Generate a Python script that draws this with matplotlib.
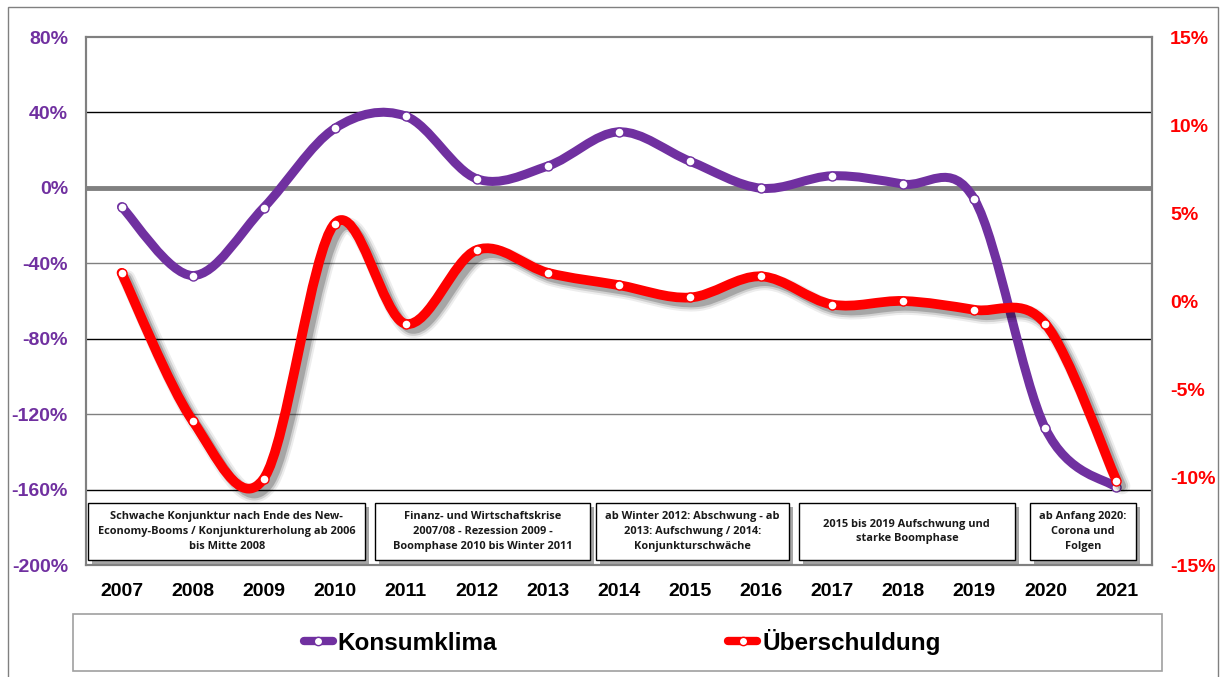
import numpy as np
import matplotlib
matplotlib.use("Agg")
import matplotlib.pyplot as plt
from matplotlib.path import Path
from matplotlib.patches import PathPatch, Rectangle
from matplotlib.lines import Line2D
import matplotlib.patheffects as pe

# data
years = ["2007", "2008", "2009", "2010", "2011", "2012", "2013", "2014",
         "2015", "2016", "2017", "2018", "2019", "2020", "2021"]
konsumklima = [-10.0, -46.5, -10.5, 31.5, 38.0, 4.8, 11.6, 29.7,
               14.1, -0.2, 6.4, 2.0, -6.0, -127.6, -158.9]
ueberschuldung = [1.6, -6.8, -10.1, 4.4, -1.3, 2.9, 1.6, 0.9,
                  0.2, 1.4, -0.2, 0.0, -0.5, -1.3, -10.2]

left_ticks = [80, 40, 0, -40, -80, -120, -160, -200]
right_ticks = [15, 10, 5, 0, -5, -10, -15]

phases = [
    ("Schwache Konjunktur nach Ende des New-\nEconomy-Booms / Konjunkturerholung ab 2006\nbis Mitte 2008", -0.47, 3.43),
    ("Finanz- und Wirtschaftskrise\n2007/08 - Rezession 2009 -\nBoomphase 2010 bis Winter 2011", 3.57, 6.59),
    ("ab Winter 2012: Abschwung - ab\n2013: Aufschwung / 2014:\nKonjunkturschwäche", 6.68, 9.39),
    ("2015 bis 2019 Aufschwung und\nstarke Boomphase", 9.53, 12.57),
    ("ab Anfang 2020:\nCorona und\nFolgen", 12.78, 14.27),
]

PURPLE = "#7030A0"
RED = "#FF0000"

plt.rcParams["font.family"] = ["Liberation Sans", "DejaVu Sans"]


def smooth_path(x, y):
    # excel-like smoothed line as cubic bezier segments
    n = len(x)
    verts = [(x[0], y[0])]
    codes = [Path.MOVETO]
    for i in range(n - 1):
        a = max(i - 1, 0)
        b = min(i + 2, n - 1)
        c1 = (x[i] + (x[i + 1] - x[a]) / 6, y[i] + (y[i + 1] - y[a]) / 6)
        c2 = (x[i + 1] - (x[b] - x[i]) / 6, y[i + 1] - (y[b] - y[i]) / 6)
        verts += [c1, c2, (x[i + 1], y[i + 1])]
        codes += [Path.CURVE4] * 3
    return Path(verts, codes)


fig = plt.figure(figsize=(12.23, 6.77), dpi=100)
ax = fig.add_axes([86 / 1223, 1 - 565 / 677, (1152 - 86) / 1223, (565 - 37) / 677])
ax2 = ax.twinx()

xs = np.arange(len(years))

ax.set_xlim(-0.5, len(years) - 0.5)
ax.set_ylim(-200, 80)
ax2.set_ylim(-15, 15)

# gridlines
for t, c in zip([40, -40, -80, -120, -160], ["#000000", "#808080", "#000000", "#808080", "#000000"]):
    ax.axhline(t, color=c, lw=1, zorder=1)
ax.axhline(0, color="#808080", lw=3.5, zorder=1)

# Konsumklima line
ax.add_patch(PathPatch(smooth_path(xs, konsumklima), fill=False, edgecolor=PURPLE,
                       lw=6.5, capstyle="round", joinstyle="round", zorder=3))
ax.plot(xs, konsumklima, "o", mfc="white", mec=PURPLE, ms=6.5, mew=1, zorder=4)

# Überschuldung line with soft shadow
shadow = [
    pe.SimpleLineShadow(offset=(4, -4), shadow_color="k", alpha=0.07, linewidth=12),
    pe.SimpleLineShadow(offset=(4, -4), shadow_color="k", alpha=0.12, linewidth=9),
    pe.SimpleLineShadow(offset=(4, -4), shadow_color="k", alpha=0.2, linewidth=6),
    pe.Normal(),
]
ax2.add_patch(PathPatch(smooth_path(xs, ueberschuldung), fill=False, edgecolor=RED,
                        lw=7, capstyle="round", joinstyle="round", zorder=3,
                        path_effects=shadow))
ax2.plot(xs, ueberschuldung, "o", mfc="white", mec=RED, ms=6.5, mew=1, zorder=4)

# axes styling
ax.set_xticks(xs)
ax.set_xticklabels(years, fontsize=14, fontweight="bold")
ax.set_yticks(left_ticks)
ax.set_yticklabels([f"{t}%" for t in left_ticks], fontsize=14, fontweight="bold", color=PURPLE)
ax2.set_yticks(right_ticks)
ax2.set_yticklabels([f"{t}%" for t in right_ticks], fontsize=14, fontweight="bold", color=RED)
ax.tick_params(axis="x", length=0, pad=13)
ax.tick_params(axis="y", length=0, pad=13)
ax2.tick_params(axis="y", length=0, pad=13)
for a in (ax, ax2):
    for s in a.spines.values():
        s.set_color("#808080")
        s.set_linewidth(1.5)

# phase boxes
for text, x0, x1 in phases:
    r = Rectangle((x0, -197.3), x1 - x0, 30.2, facecolor="white", edgecolor="black",
                  lw=1, zorder=5,
                  path_effects=[pe.SimplePatchShadow(offset=(3, -3), shadow_rgbFace="k", alpha=0.35),
                                pe.Normal()])
    ax.add_patch(r)
    ax.text((x0 + x1) / 2, -182.2, text, ha="center", va="center", fontsize=7.9,
            fontweight="bold", family=["Open Sans", "DejaVu Sans"], color="#1a1a1a",
            linespacing=1.45, zorder=6)

# legend
fig.patches.append(Rectangle((73 / 1223, 1 - 671 / 677), (1162 - 73) / 1223, 57 / 677,
                             transform=fig.transFigure, fill=False, edgecolor="#a0a0a0", lw=1.2))
handles = [
    Line2D([], [], color=PURPLE, lw=6, solid_capstyle="round", marker="o",
           mfc="white", mec=PURPLE, ms=6),
    Line2D([], [], color=RED, lw=6, solid_capstyle="round", marker="o",
           mfc="white", mec=RED, ms=6),
]
fig.legend(handles, ["Konsumklima", "Überschuldung"], loc="center",
           bbox_to_anchor=(622 / 1223, 1 - 642 / 677), ncol=2, frameon=False,
           prop={"weight": "bold", "size": 17.5}, handlelength=1.2, handletextpad=0.2,
           columnspacing=9.5)

# outer border
fig.patches.append(Rectangle((8 / 1223, -0.02), 1210 / 1223, 1.02 - 7 / 677,
                             transform=fig.transFigure, fill=False, edgecolor="#808080", lw=1))

fig.savefig("out.png", dpi=100)
